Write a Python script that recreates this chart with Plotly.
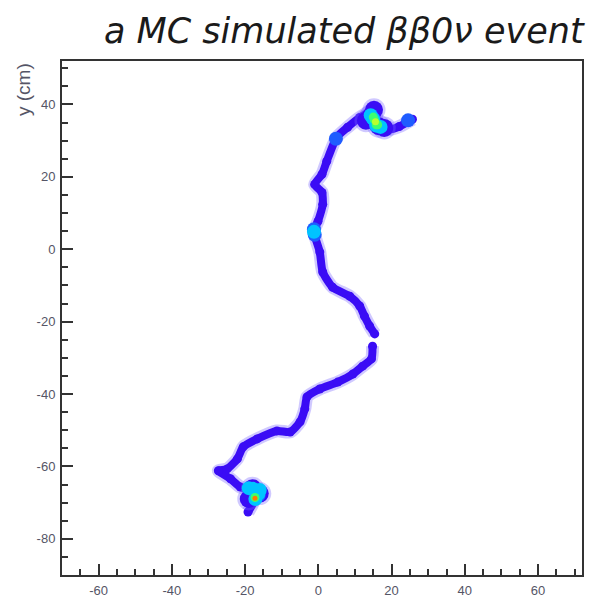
import plotly.graph_objects as go

# Track centre-line (cm); None marks the small gap
track_x = [25.7, 22.1, 19.4, 15.6, 14.5, 11.3, 8.0, 5.0, 2.3, 1.0, -1.0, 1.0, 1.2, -0.1, -1.2,
           0.4, 1.2, 3.9, 8.6, 11.3, 12.6, 14.0, 15.4, None, 14.8, 14.5, 12.1, 9.4, 5.3, 0.4,
           -3.1, -3.7, -5.0, -7.7, -11.3, -16.7, -20.5, -22.1, -24.9, -27.3, -24.0, -21.3,
           -17.8, -17.3, -19.2]
track_y = [35.9, 33.9, 33.1, 35.0, 38.1, 36.4, 33.7, 30.9, 24.3, 20.7, 17.9, 15.7, 12.4, 7.7, 5.0,
           -0.8, -6.3, -10.5, -13.0, -15.7, -18.5, -21.2, -23.4, None, -26.8, -30.3, -32.3, -34.5,
           -36.7, -38.6, -40.8, -44.1, -47.7, -50.5, -50.2, -52.4, -54.6, -57.9, -60.7, -61.2,
           -63.4, -65.7, -66.8, -69.0, -72.6]

# Energy deposits (blobs): position and intensity level
dep_x = [14.5, 16.5, 13.0, 18.0, 15.2, -18.0, -16.0, -19.0,
         24.5, -1.2, -1.0, 4.8, 15.0, 16.3, -17.5, -16.3,
         -1.2, 15.0, 15.8, 14.3, 17.0, -17.8, -16.4, -19.0, -16.0, -17.2,
         15.3, 15.8, 15.0, 16.2, -17.3,
         15.6,
         -17.3]
dep_y = [37.0, 34.0, 35.5, 33.5, 38.5, -66.0, -67.5, -69.0,
         35.6, 5.5, 4.0, 30.5, 36.0, 34.0, -66.5, -68.0,
         4.8, 36.0, 34.2, 37.0, 33.8, -66.2, -67.6, -66.0, -66.5, -69.0,
         35.8, 34.4, 36.5, 34.4, -68.6,
         35.2,
         -68.8]
dep_level = [1, 1, 1, 1, 1, 1, 1, 1,
             2, 2, 2, 2, 2, 2, 2, 2,
             3, 3, 3, 3, 3, 3, 3, 3, 3, 3,
             4, 4, 4, 4, 4,
             5,
             6]

level_style = {
    1: dict(color="#3a0cf5", size=18),
    2: dict(color="#1f5cff", size=14),
    3: dict(color="#00c4ff", size=14),
    4: dict(color="#3cff70", size=9),
    5: dict(color="#b8ff30", size=7),
    6: dict(color="#ff7a00", size=5),
}

x_ticks = [-60, -40, -20, 0, 20, 40, 60]
y_ticks = [-80, -60, -40, -20, 0, 20, 40]

fig = go.Figure()

# soft halo around the track
fig.add_trace(go.Scatter(x=track_x, y=track_y, mode="lines",
                         line=dict(color="rgba(120,100,255,0.35)", width=13, shape="spline", smoothing=0.6),
                         hoverinfo="skip", showlegend=False))
fig.add_trace(go.Scatter(x=track_x, y=track_y, mode="lines+markers",
                         line=dict(color="#3a0cf5", width=8, shape="spline", smoothing=0.6),
                         marker=dict(color="#3a0cf5", size=9),
                         showlegend=False))

for lvl, st in level_style.items():
    xs = [x for x, l in zip(dep_x, dep_level) if l == lvl]
    ys = [y for y, l in zip(dep_y, dep_level) if l == lvl]
    if lvl == 1:
        fig.add_trace(go.Scatter(x=xs, y=ys, mode="markers",
                                 marker=dict(color="rgba(120,100,255,0.35)", size=st["size"] + 5),
                                 hoverinfo="skip", showlegend=False))
    fig.add_trace(go.Scatter(x=xs, y=ys, mode="markers",
                             marker=dict(color=st["color"], size=st["size"], line=dict(width=0)),
                             showlegend=False))

axis_common = dict(showgrid=False, zeroline=False, showline=True, linecolor="#333333", linewidth=2,
                   mirror=True, ticks="inside", ticklen=11, tickwidth=2, tickcolor="#333333",
                   automargin=False,
                   tickfont=dict(family="Liberation Sans", size=13, color="#555566"),
                   minor=dict(ticks="inside", ticklen=6, tickwidth=2, tickcolor="#333333", dtick=5))

fig.update_xaxes(range=[-70, 72], tickvals=x_ticks, ticktext=[str(v) for v in x_ticks],
                 ticklabelstandoff=2, **axis_common)
fig.update_yaxes(range=[-90, 52], tickvals=y_ticks, ticktext=[str(v) for v in y_ticks],
                 ticklabelstandoff=2, **axis_common)

fig.update_layout(
    width=585, height=594,
    margin=dict(l=54, r=11, t=53, b=27),
    paper_bgcolor="white", plot_bgcolor="white",
    annotations=[
        dict(text="<i>a MC simulated ββ0ν event</i>", xref="paper", yref="paper",
             x=0.077, y=1.0, xanchor="left", yanchor="bottom", yshift=8, showarrow=False,
             font=dict(family="DejaVu Sans", size=35, color="#1a1a1a")),
        dict(text="y (cm)", xref="paper", yref="paper", x=0, y=1.0, xanchor="right", yanchor="top",
             xshift=-26, yshift=0, textangle=-90, showarrow=False,
             font=dict(family="Liberation Sans", size=19, color="#555566")),
    ],
)

fig.write_html("out.html")
